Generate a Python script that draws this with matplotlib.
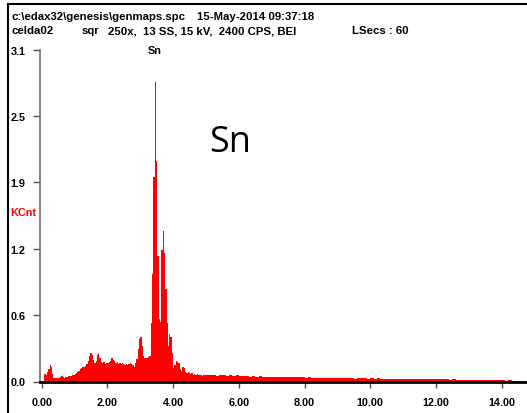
"""EDS spectrum of a tin sample, drawn as a filled channel histogram."""

import matplotlib

matplotlib.use("Agg")

import matplotlib.pyplot as plt
import numpy as np

WIDTH_PX = 527
HEIGHT_PX = 414
DPI = 100
SPECTRUM_RED = "#ff0000"

# Counts (KCnt) per 0.04 keV channel from 0 to 5 keV
LOW_STEP_KEV = 0.04
LOW_COUNTS = [
    0.0, 0.0, 0.07, 0.06, 0.09, 0.12, 0.15, 0.14, 0.07, 0.03,
    0.03, 0.035, 0.03, 0.035, 0.04, 0.05, 0.04, 0.035, 0.045, 0.04,
    0.05, 0.055, 0.05, 0.06, 0.065, 0.07, 0.08, 0.09, 0.10, 0.12,
    0.13, 0.14, 0.135, 0.145, 0.16, 0.19, 0.24, 0.27, 0.25, 0.20,
    0.17, 0.19, 0.25, 0.265, 0.22, 0.18, 0.17, 0.18, 0.165, 0.175,
    0.17, 0.18, 0.19, 0.22, 0.205, 0.19, 0.17, 0.18, 0.165, 0.17,
    0.16, 0.17, 0.16, 0.15, 0.16, 0.155, 0.16, 0.17, 0.165, 0.155,
    0.14, 0.17, 0.21, 0.30, 0.40, 0.42, 0.33, 0.24, 0.22, 0.215,
    0.22, 0.225, 0.24, 0.55, 1.00, 1.91, 2.80, 2.06, 1.17, 0.58,
    0.56, 1.23, 1.41, 1.20, 0.86, 0.55, 0.33, 0.44, 0.42, 0.27,
    0.13, 0.15, 0.19, 0.18, 0.17, 0.12, 0.10, 0.14, 0.13, 0.09,
    0.08, 0.085, 0.075, 0.07, 0.075, 0.065, 0.07, 0.065, 0.07, 0.06,
    0.065, 0.06, 0.055, 0.06, 0.058,
]

# Counts (KCnt) per 0.1 keV channel in the high-energy tail
TAIL_STEP_KEV = 0.1
TAIL_COUNTS = [
    0.062, 0.058, 0.065, 0.055, 0.060, 0.057, 0.055, 0.060, 0.052, 0.058,
    0.054, 0.056, 0.050, 0.046, 0.048, 0.044, 0.047, 0.045, 0.042, 0.046,
    0.044, 0.040, 0.043, 0.041, 0.045, 0.039, 0.042, 0.040, 0.038, 0.041,
    0.036, 0.038, 0.034, 0.033, 0.036, 0.032, 0.034, 0.031, 0.033, 0.030,
    0.032, 0.030, 0.031, 0.029, 0.030, 0.028, 0.030, 0.030, 0.031, 0.028,
    0.030, 0.027, 0.029, 0.026, 0.027, 0.025, 0.026, 0.024, 0.026, 0.023,
    0.025, 0.022, 0.024, 0.022, 0.023, 0.021, 0.023, 0.020, 0.022, 0.020,
    0.021, 0.019, 0.020, 0.019, 0.018, 0.019, 0.017, 0.018, 0.017, 0.018,
    0.016, 0.017, 0.016, 0.017, 0.015, 0.016, 0.015, 0.016, 0.014, 0.015,
    0.014, 0.008, 0.010, 0.006, 0.009,
]

X_TICKS = [0, 2, 4, 6, 8, 10, 12, 14]
Y_MAX = 3.1
Y_TICK_COUNT = 5
PEAK_LABEL = "Sn"
PEAK_ENERGY = 3.44

HEADER_LINE_1 = [(11.5, "c:\\edax32\\genesis\\genmaps.spc"), (197, "15-May-2014 09:37:18")]
HEADER_LINE_2 = [(11.5, "celda02"), (82, "sqr"), (108, "250x,  13 SS, 15 kV,  2400 CPS, BEI"), (352, "LSecs : 60")]


def fig_xy(x_px, y_px):
    """Converts top-left pixel coordinates to figure fractions."""
    return x_px / WIDTH_PX, 1 - y_px / HEIGHT_PX


def main():
    fig = plt.figure(figsize=(WIDTH_PX / DPI, HEIGHT_PX / DPI), dpi=DPI)
    left, top = fig_xy(40, 50.7)
    _, bottom = fig_xy(0, 382.5)
    ax = fig.add_axes((left, bottom, 1 - left, top - bottom))

    low_edges = np.arange(len(LOW_COUNTS) + 1) * LOW_STEP_KEV
    tail_edges = low_edges[-1] + np.arange(len(TAIL_COUNTS) + 1) * TAIL_STEP_KEV
    edges = np.concatenate([low_edges, tail_edges[1:]])
    counts = np.array(LOW_COUNTS + TAIL_COUNTS)
    ax.stairs(counts, edges, fill=True, color=SPECTRUM_RED, linewidth=0)

    ax.set_xlim(-0.05, 14.77)
    ax.set_ylim(0, Y_MAX)

    for side in ("top", "right"):
        ax.spines[side].set_visible(False)
    ax.spines["left"].set_color("#707070")
    ax.spines["left"].set_linewidth(1.2)
    ax.spines["bottom"].set_color("black")
    ax.spines["bottom"].set_linewidth(2)
    ax.spines["bottom"].set_zorder(5)

    tick_font = dict(fontweight="bold", fontsize=7.8, family="Liberation Sans")
    ax.set_xticks(X_TICKS, [f"{v:.2f}" for v in X_TICKS], **tick_font)
    ax.tick_params(axis="x", direction="out", length=4, width=1, color="#505050", pad=7.5)

    y_ticks = [Y_MAX * k / Y_TICK_COUNT for k in range(Y_TICK_COUNT + 1)]
    ax.set_yticks(y_ticks, [f"{v:.1f}" for v in y_ticks], **tick_font)
    ax.tick_params(axis="y", direction="out", length=5, width=1, color="#505050", pad=16)
    for label in ax.get_yticklabels():
        label.set_horizontalalignment("left")

    ax.annotate(PEAK_LABEL, (PEAK_ENERGY, 1.0), xycoords=("data", "axes fraction"), ha="center", va="center",
                annotation_clip=False, **tick_font)

    fig.text(*fig_xy(10.5, 213), "KCnt", color=SPECTRUM_RED, ha="left", va="center", **tick_font)
    for y_px, pieces in ((16.5, HEADER_LINE_1), (31, HEADER_LINE_2)):
        for x_px, text in pieces:
            fig.text(*fig_xy(x_px, y_px), text, fontsize=8.2, fontweight="bold", family="Liberation Sans",
                     ha="left", va="center")

    fig.text(*fig_xy(230.5, 151.5), PEAK_LABEL, fontsize=26, family="Open Sans", ha="center", va="baseline")

    # Window frame on the top and left edges
    fig.add_artist(plt.Line2D([8 / WIDTH_PX, 1], [1 - 4.5 / HEIGHT_PX] * 2, color="black", linewidth=1.5,
                              transform=fig.transFigure))
    fig.add_artist(plt.Line2D([8 / WIDTH_PX] * 2, [0, 1 - 4.5 / HEIGHT_PX], color="black", linewidth=1.5,
                              transform=fig.transFigure))

    fig.savefig("out.png", dpi=DPI)


if __name__ == "__main__":
    main()
